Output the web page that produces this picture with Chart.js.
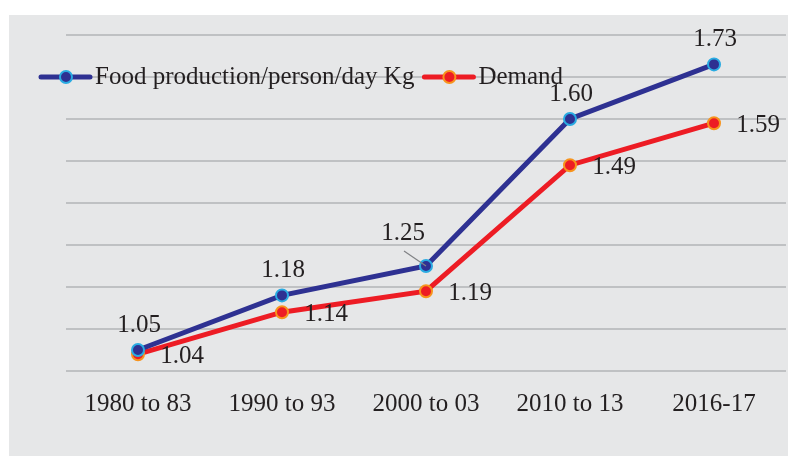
<!DOCTYPE html>
<html>
<head>
<meta charset="utf-8">
<script src="https://cdn.jsdelivr.net/npm/chart.js@4/dist/chart.umd.min.js"></script>
<style>
  html, body { margin: 0; padding: 0; background: #fff; }
  #wrap { width: 788px; height: 456px; }
</style>
</head>
<body>
<div id="wrap"><canvas id="myChart" width="788" height="456"></canvas></div>
<script>
// data
var periods = ['1980 to 83', '1990 to 93', '2000 to 03', '2010 to 13', '2016-17'];
var production = [1.05, 1.18, 1.25, 1.60, 1.73];
var demand = [1.04, 1.14, 1.19, 1.49, 1.59];

// where each value label sits next to its point
var productionLabelPos = ['above', 'above', 'leader', 'above', 'above'];
var demandLabelPos = ['right', 'right', 'right', 'right', 'right'];

var serif = '"Liberation Serif", "Times New Roman", serif';
var textColor = '#231f20';

// grey panel behind the chart
var panelBg = {
    id: 'panelBg',
    beforeDraw: function(chart) {
        var c = chart.ctx;
        c.save();
        c.fillStyle = '#ffffff';
        c.fillRect(0, 0, chart.width, chart.height);
        c.fillStyle = '#e6e7e8';
        c.fillRect(9, 15, chart.width - 9, chart.height - 15);
        c.restore();
    }
};

// legend drawn inside the plot, line + marker like the original
var lineLegend = {
    id: 'lineLegend',
    afterDraw: function(chart) {
        var c = chart.ctx;
        var x = 39, y = 77;
        c.save();
        c.font = '25px ' + serif;
        c.textBaseline = 'middle';
        chart.data.datasets.forEach(function(ds) {
            c.strokeStyle = ds.borderColor;
            c.lineWidth = 5;
            c.lineCap = 'round';
            c.beginPath();
            c.moveTo(x + 2, y);
            c.lineTo(x + 51, y);
            c.stroke();
            c.beginPath();
            c.arc(x + 27, y, 6, 0, Math.PI * 2);
            c.fillStyle = ds.pointBackgroundColor;
            c.fill();
            c.lineWidth = 2;
            c.strokeStyle = ds.pointBorderColor;
            c.stroke();
            c.fillStyle = textColor;
            c.fillText(ds.label, x + 56, y);
            x += 56 + c.measureText(ds.label).width + 8;
        });
        c.restore();
    }
};

// value labels
var valueLabels = {
    id: 'valueLabels',
    afterDatasetsDraw: function(chart) {
        var c = chart.ctx;
        c.save();
        c.font = '25px ' + serif;
        c.fillStyle = textColor;
        c.textAlign = 'center';
        c.textBaseline = 'middle';
        chart.data.datasets.forEach(function(ds, i) {
            var meta = chart.getDatasetMeta(i);
            meta.data.forEach(function(pt, j) {
                var txt = ds.data[j].toFixed(2);
                var pos = ds.labelPos[j];
                var tx = pt.x, ty = pt.y;
                if (pos === 'above') { tx += 1; ty -= 25; }
                else if (pos === 'right') { tx += 44; ty += 2; }
                else if (pos === 'leader') {
                    tx -= 23; ty -= 33;
                    c.save();
                    c.strokeStyle = '#808285';
                    c.lineWidth = 1.2;
                    c.beginPath();
                    c.moveTo(pt.x - 22, pt.y - 15);
                    c.lineTo(pt.x, pt.y);
                    c.stroke();
                    c.restore();
                }
                c.fillText(txt, tx, ty);
            });
        });
        c.restore();
    }
};

const ctx = document.getElementById('myChart').getContext('2d');

var graphData = {
    type: 'line',
    data: {
        labels: periods,
        datasets: [{
            label: 'Food production/person/day Kg',
            data: production,
            labelPos: productionLabelPos,
            borderColor: '#2e3192',
            borderWidth: 5,
            pointRadius: 6,
            pointBorderWidth: 2,
            pointBackgroundColor: '#2e3192',
            pointBorderColor: '#29abe2',
            tension: 0
        }, {
            label: 'Demand',
            data: demand,
            labelPos: demandLabelPos,
            borderColor: '#ed1c24',
            borderWidth: 5,
            pointRadius: 6,
            pointBorderWidth: 2,
            pointBackgroundColor: '#ed1c24',
            pointBorderColor: '#f7941d',
            tension: 0
        }]
    },
    options: {
        responsive: false,
        animation: false,
        layout: { autoPadding: false, padding: { left: 66, top: 35, right: 2, bottom: 19 } },
        plugins: {
            legend: { display: false },
            tooltip: { enabled: false }
        },
        scales: {
            x: {
                offset: true,
                grid: { display: false, drawTicks: false },
                border: { display: false },
                ticks: {
                    color: textColor,
                    padding: 18,
                    font: { family: serif, size: 25 }
                }
            },
            y: {
                min: 1.0,
                max: 1.8,
                ticks: { display: false, stepSize: 0.1 },
                border: { display: false },
                grid: { color: '#bfc1c3', lineWidth: 2, drawTicks: false }
            }
        }
    },
    plugins: [panelBg, lineLegend, valueLabels]
};
var myChart = new Chart(ctx, graphData);
</script>
</body>
</html>
